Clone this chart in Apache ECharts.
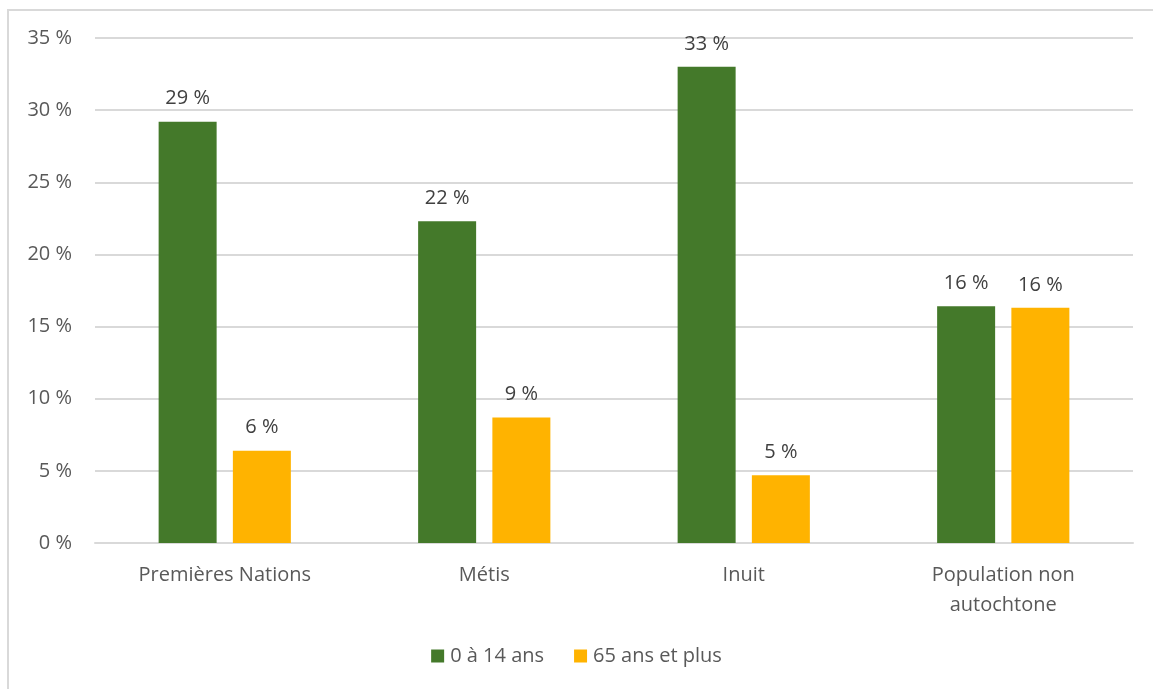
<!DOCTYPE html>
<html>
<head>
<meta charset="utf-8">
<script src="https://cdn.jsdelivr.net/npm/echarts@6/dist/echarts.min.js"></script>
<style>
html,body{margin:0;padding:0;background:#fff;}
#frame{position:absolute;left:7px;top:9px;width:1160px;height:700px;border:2px solid #d9d9d9;box-sizing:border-box;}
#chart{position:absolute;left:0;top:0;width:1153px;height:689px;}
</style>
</head>
<body>
<div id="frame"></div>
<div id="chart"></div>
<script>
const categories = ["Premières Nations", "Métis", "Inuit", "Population non\nautochtone"];
const seriesNames = ["0 à 14 ans", "65 ans et plus"];
const youngValues = [29.2, 22.3, 33.0, 16.4];
const olderValues = [6.4, 8.7, 4.7, 16.3];
const colors = ["#44792a", "#ffb300"];

const font = "'Open Sans', sans-serif";
const textColor = "#595959";
const fs = 20;
const chart = echarts.init(document.getElementById('chart'));
const labelCfg = {
  show: true, position: 'top', distance: 13,
  color: '#404040', fontSize: fs, fontFamily: font,
  formatter: p => Math.round(p.value) + ' %'
};
chart.setOption({
  backgroundColor: 'transparent',
  animation: false,
  color: colors,
  grid: {left: 95, right: 20, top: 38, bottom: 146, containLabel: false},
  legend: {
    data: seriesNames, bottom: 18, left: 'center',
    itemWidth: 13, itemHeight: 13, itemGap: 30, icon: 'rect',
    textStyle: {color: textColor, fontSize: fs, fontFamily: font, padding: [0, 0, 0, 1]}
  },
  xAxis: {
    type: 'category', data: categories,
    axisLine: {lineStyle: {color: '#d9d9d9', width: 2}},
    axisTick: {show: false},
    axisLabel: {color: textColor, fontSize: fs, fontFamily: font, margin: 17, lineHeight: 30}
  },
  yAxis: {
    type: 'value', min: 0, max: 35, interval: 5,
    axisLine: {show: false}, axisTick: {show: false},
    splitLine: {lineStyle: {color: '#d9d9d9', width: 2}},
    axisLabel: {color: textColor, fontSize: fs, fontFamily: font, margin: 23, formatter: v => v + ' %'}
  },
  series: [
    {name: seriesNames[0], type: 'bar', data: youngValues, barWidth: 58, barGap: '28%', label: labelCfg},
    {name: seriesNames[1], type: 'bar', data: olderValues, barWidth: 58, barGap: '28%', label: labelCfg}
  ]
});
</script>
</body>
</html>
